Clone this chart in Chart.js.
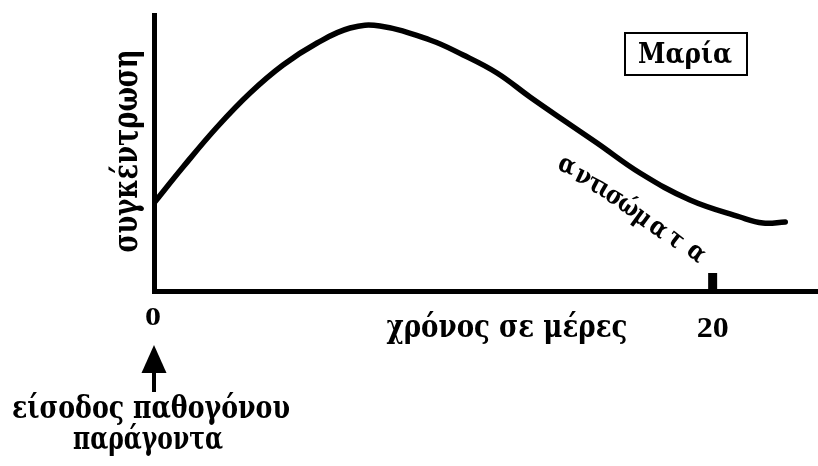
<!DOCTYPE html>
<html>
<head>
<meta charset="utf-8">
<script src="https://cdn.jsdelivr.net/npm/chart.js@4"></script>
<style>
  html, body { margin: 0; padding: 0; background: #fff; }
  #wrap { width: 818px; height: 466px; }
</style>
</head>
<body>
<div id="wrap"><canvas id="chart" width="818" height="466"></canvas></div>
<script>
// ── Data ────────────────────────────────────────────────────────────────────
const days      = [0, 1.04, 2.26, 3.44, 4.62, 5.84, 7.02, 8.09, 9.88, 11.07, 12.28, 13.46, 14.65, 15.86, 17.4, 19.19, 20.98, 21.8, 22.6];
const antibody  = [86, 122, 162, 196, 224, 246, 261, 263, 249, 234, 216, 192, 169, 146, 116, 89, 72, 66, 67];
const tickValues = [0, 20];
const tickLabels = ['0', '20'];
const X_MAX = 23.7;
const Y_MAX = 276;

const FONT = '"DejaVu Serif", serif';
const DIGITS = '"Liberation Serif", serif';

// draw text centred at (x, y) and squeezed/stretched to width w
function fitText(ctx, text, x, y, w, size, angle, family) {
  ctx.save();
  ctx.font = `bold ${size}px ${family || FONT}`;
  const s = w / ctx.measureText(text).width;
  ctx.translate(x, y);
  if (angle) ctx.rotate(angle);
  ctx.scale(s, 1);
  ctx.textAlign = 'center';
  ctx.textBaseline = 'alphabetic';
  ctx.fillStyle = '#000';
  ctx.fillText(text, 0, 0);
  ctx.restore();
}

const decorations = {
  id: 'decorations',
  afterDraw(chart) {
    const { ctx, chartArea: a, scales: { x, y } } = chart;
    ctx.save();
    ctx.fillStyle = '#000';
    ctx.strokeStyle = '#000';

    // axes
    ctx.lineWidth = 5;
    ctx.beginPath();
    ctx.moveTo(a.left + 0.5, a.top);
    ctx.lineTo(a.left + 0.5, a.bottom + 2.5);
    ctx.lineTo(818, a.bottom + 2.5);
    ctx.stroke();

    // tick mark at 20 (inside the plot)
    const x20 = x.getPixelForValue(tickValues[1]);
    ctx.fillRect(x20 - 4.5, a.bottom - 16, 9, 18);

    // tick labels
    fitText(ctx, tickLabels[0], x.getPixelForValue(tickValues[0]) - 1, 325, 16, 26, 0, DIGITS);
    fitText(ctx, tickLabels[1], x20, 337, 32, 30, 0, DIGITS);

    // axis titles
    fitText(ctx, 'χρόνος σε μέρες', 507, 337, 241, 31);
    fitText(ctx, 'συγκέντρωση', 137, 151, 203, 36, -Math.PI / 2);

    // arrow: entry of pathogen
    const x0 = x.getPixelForValue(0);
    ctx.fillRect(x0 - 2, 370, 4, 22);
    ctx.beginPath();
    ctx.moveTo(x0, 345);
    ctx.lineTo(x0 - 12.5, 373);
    ctx.lineTo(x0 + 12.5, 373);
    ctx.closePath();
    ctx.fill();
    fitText(ctx, 'είσοδος παθογόνου', 151, 418, 278, 31);
    fitText(ctx, 'παράγοντα', 148, 449, 150, 31);

    // legend box
    ctx.lineWidth = 2;
    ctx.strokeRect(625, 33, 122, 42);
    fitText(ctx, 'Μαρία', 685, 63, 94, 27);

    // curve label, letters follow the curve
    const letters = ['α', 'ν', 'τ', 'ι', 'σ', 'ώ', 'μ', 'α', 'τ', 'α'];
    const pos = [[567, 166], [583, 177], [595, 185], [604, 190], [614, 197], [628, 207], [642, 218], [658, 229], [675, 240], [696, 253]];
    const ang = [22, 25, 28, 30, 32, 34, 36, 37, 38, 40];
    ctx.font = `bold 26px ${FONT}`;
    ctx.textAlign = 'center';
    ctx.textBaseline = 'middle';
    letters.forEach((ch, i) => {
      ctx.save();
      ctx.translate(pos[i][0], pos[i][1]);
      ctx.rotate(ang[i] * Math.PI / 180);
      ctx.scale(0.85, 1);
      ctx.fillText(ch, 0, 0);
      ctx.restore();
    });

    ctx.restore();
  }
};

new Chart(document.getElementById('chart'), {
  type: 'line',
  data: {
    datasets: [{
      data: days.map((d, i) => ({ x: d, y: antibody[i] })),
      borderColor: '#000',
      borderWidth: 5.5,
      borderCapStyle: 'round',
      borderJoinStyle: 'round',
      pointRadius: 0,
      fill: false,
      tension: 0.4,
    }],
  },
  options: {
    responsive: false,
    animation: false,
    layout: { padding: { left: 154, top: 13, right: 2, bottom: 177 } },
    plugins: { legend: { display: false }, tooltip: { enabled: false } },
    scales: {
      x: { type: 'linear', min: 0, max: X_MAX, display: false },
      y: { type: 'linear', min: 0, max: Y_MAX, display: false },
    },
  },
  plugins: [decorations],
});
</script>
</body>
</html>
